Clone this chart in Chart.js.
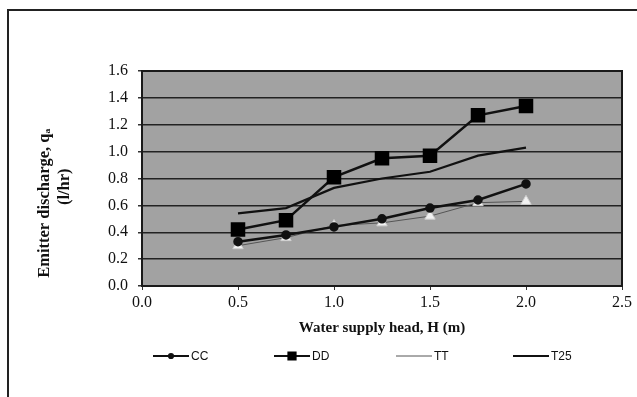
<!DOCTYPE html>
<html>
<head>
<meta charset="utf-8">
<script src="https://cdn.jsdelivr.net/npm/chart.js@4.4.1/dist/chart.umd.min.js"></script>
<style>
    body { margin: 0; background: #fff; overflow: hidden; }
    #wrap { position: relative; width: 637px; height: 397px; overflow: hidden; }
    .frame { position: absolute; left: 7px; top: 9px; right: -10px; bottom: -10px; border: 2px solid #222; }
    #chart { position: absolute; left: 0; top: 0; }
</style>
</head>
<body>
<div id="wrap">
    <div class="frame"></div>
    <canvas id="chart" width="637" height="397"></canvas>
</div>
<script>
// water supply head H (m)
const heads = [0.5, 0.75, 1.0, 1.25, 1.5, 1.75, 2.0];
// emitter discharge (l/hr)
const cc = [0.33, 0.38, 0.44, 0.50, 0.58, 0.64, 0.76];
const dd = [0.42, 0.49, 0.81, 0.95, 0.97, 1.27, 1.34];
const tt = [0.30, 0.36, 0.45, 0.47, 0.52, 0.62, 0.63];
const t25 = [0.54, 0.58, 0.73, 0.80, 0.85, 0.97, 1.03];
const seriesNames = ['CC', 'DD', 'TT', 'T25'];
const xTicks = [0.0, 0.5, 1.0, 1.5, 2.0, 2.5];
const yTicks = [0.0, 0.2, 0.4, 0.6, 0.8, 1.0, 1.2, 1.4, 1.6];

const serif = "'Liberation Serif', 'DejaVu Serif', serif";
const legendX = [153, 274, 396, 513];

function points(values) {
    return heads.map((h, i) => ({ x: h, y: values[i] }));
}

// grey plot background, frame and the hand placed legend
const paperPlugin = {
    id: 'paper',
    beforeDraw(chart) {
        const { ctx, chartArea: a } = chart;
        ctx.save();
        ctx.fillStyle = '#a2a2a2';
        ctx.fillRect(a.left, a.top, a.right - a.left, a.bottom - a.top);
        ctx.restore();
    },
    beforeDatasetsDraw(chart) {
        const { ctx, chartArea: a } = chart;
        ctx.save();
        ctx.strokeStyle = '#1a1a1a';
        ctx.lineWidth = 2;
        ctx.strokeRect(a.left, a.top, a.right - a.left, a.bottom - a.top);
        ctx.restore();
    },
    afterDraw(chart) {
        const ctx = chart.ctx;
        const y = 356;
        chart.data.datasets.forEach((ds, i) => {
            const x0 = legendX[i];
            ctx.save();
            ctx.strokeStyle = ds.borderColor;
            ctx.lineWidth = Math.min(ds.borderWidth, 2);
            ctx.beginPath();
            ctx.moveTo(x0, y);
            ctx.lineTo(x0 + 36, y);
            ctx.stroke();
            if (ds.pointRadius > 0 && ds.pointStyle !== 'triangle') {
                ctx.fillStyle = ds.pointBackgroundColor;
                ctx.strokeStyle = ds.pointBorderColor;
                Chart.helpers.drawPoint(ctx, {
                    pointStyle: ds.pointStyle,
                    radius: ds.pointRadius * 0.6,
                    rotation: 0,
                    borderWidth: 1
                }, x0 + 18, y);
            }
            ctx.fillStyle = '#111';
            ctx.font = "12px 'Liberation Sans', Arial, sans-serif";
            ctx.textBaseline = 'middle';
            ctx.fillText(ds.label, x0 + 38, y + 1);
            ctx.restore();
        });
    }
};

new Chart(document.getElementById('chart'), {
    type: 'line',
    data: {
        datasets: [{
            label: seriesNames[0],
            data: points(cc),
            borderColor: '#111',
            borderWidth: 2.5,
            pointStyle: 'circle',
            pointRadius: 3.5,
            pointBackgroundColor: '#111',
            pointBorderColor: '#111'
        }, {
            label: seriesNames[1],
            data: points(dd),
            borderColor: '#111',
            borderWidth: 2.5,
            pointStyle: 'rect',
            pointRadius: 8.5,
            pointBackgroundColor: '#000',
            pointBorderColor: '#000'
        }, {
            label: seriesNames[2],
            data: points(tt),
            borderColor: '#555',
            borderWidth: 1,
            pointStyle: 'triangle',
            pointRadius: 6,
            pointBackgroundColor: '#f2f2f2',
            pointBorderColor: '#cfcfcf'
        }, {
            label: seriesNames[3],
            data: points(t25),
            borderColor: '#111',
            borderWidth: 2.2,
            pointRadius: 0,
            pointBackgroundColor: '#111',
            pointBorderColor: '#111'
        }]
    },
    options: {
        responsive: false,
        animation: false,
        layout: { padding: { top: 71, left: 8, right: 15, bottom: 51 } },
        plugins: {
            legend: { display: false },
            tooltip: { enabled: false }
        },
        scales: {
            x: {
                type: 'linear',
                min: 0,
                max: 2.5,
                afterBuildTicks: scale => { scale.ticks = xTicks.map(v => ({ value: v })); },
                afterFit: scale => { scale.height = 60; },
                border: { display: false },
                grid: { drawOnChartArea: false, drawTicks: true, tickLength: 4, tickColor: '#333' },
                ticks: {
                    padding: 3,
                    color: '#111',
                    font: { family: serif, size: 16 },
                    callback: v => v.toFixed(1)
                },
                title: {
                    display: true,
                    text: 'Water supply head, H (m)',
                    color: '#111',
                    padding: { top: 0, bottom: 9 },
                    font: { family: serif, size: 15, weight: 'bold' }
                }
            },
            y: {
                min: 0,
                max: 1.6,
                afterBuildTicks: scale => { scale.ticks = yTicks.map(v => ({ value: v })); },
                afterFit: scale => { scale.width = 134; },
                border: { display: false },
                grid: { color: '#222', lineWidth: 1.5, drawTicks: true, tickLength: 4, tickColor: '#333' },
                ticks: {
                    padding: 10,
                    color: '#111',
                    font: { family: serif, size: 16 },
                    callback: v => v.toFixed(1)
                },
                title: {
                    display: true,
                    text: ['Emitter discharge, q\u2090' + ' '.repeat(12), '(l/hr)' + ' '.repeat(4)],
                    color: '#111',
                    padding: { top: 27, bottom: 0 },
                    font: { family: serif, size: 16.5, weight: 'bold' }
                }
            }
        }
    },
    plugins: [paperPlugin]
});
</script>
</body>
</html>
